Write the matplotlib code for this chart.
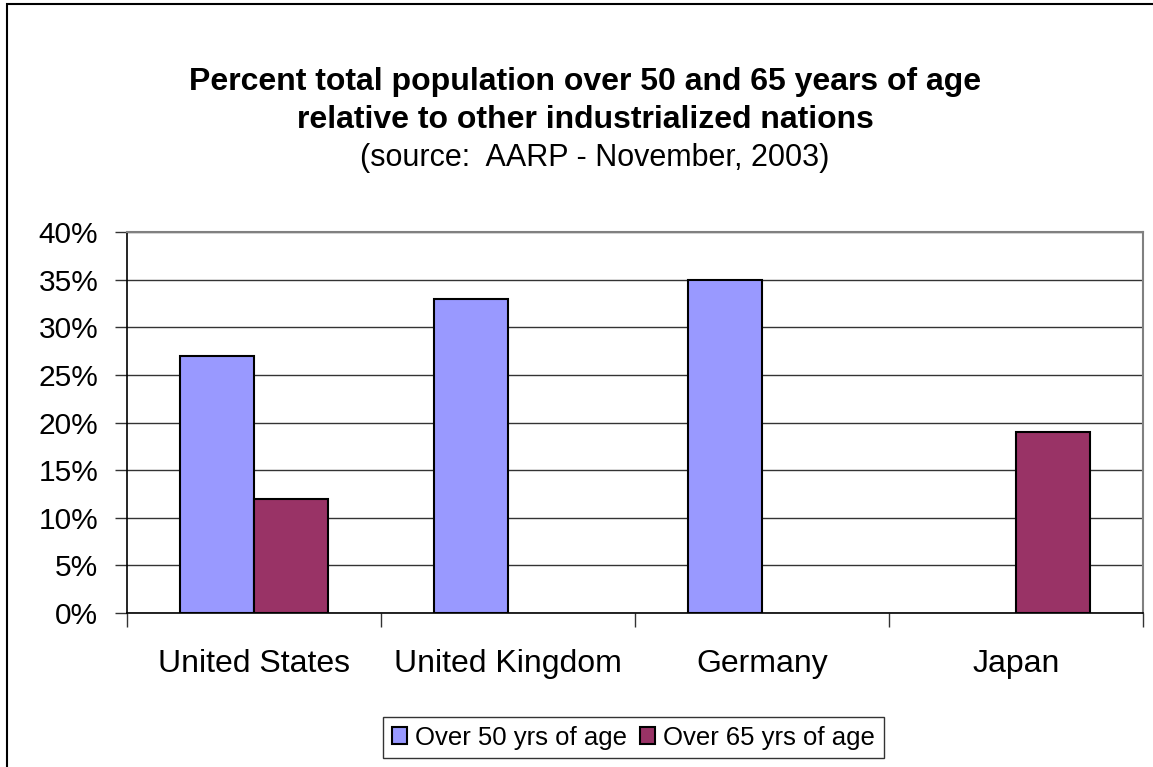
import matplotlib
matplotlib.use("Agg")
import matplotlib.pyplot as plt
from matplotlib.patches import Rectangle
from matplotlib.ticker import FixedLocator, FuncFormatter
import numpy as np

plt.rcParams['font.family'] = ['Liberation Sans', 'DejaVu Sans']

categories = ["United States", "United Kingdom", "Germany", "Japan"]
over50 = [27, 33, 35, 0]
over65 = [12, 0, 0, 19]
series_names = ["Over 50 yrs of age", "Over 65 yrs of age"]
colors = ["#9999FF", "#993366"]

fig = plt.figure(figsize=(11.53, 7.67), dpi=100)
ax = fig.add_axes([127/1153, 1-613/767, 1016/1153, 381/767])

x = np.arange(len(categories))
w = 0.29
for vals, off, c, name in [(over50, -w/2, colors[0], series_names[0]),
                           (over65, w/2, colors[1], series_names[1])]:
    xs = [xi + off for xi, v in zip(x, vals) if v > 0]
    vs = [v for v in vals if v > 0]
    ax.bar(xs, vs, width=w, color=c, edgecolor='black', linewidth=1.5,
           label=name, zorder=3)

ax.set_xlim(-0.5, len(categories) - 0.5)
ax.set_ylim(0, 40)
ax.yaxis.set_major_locator(FixedLocator(range(0, 41, 5)))
ax.yaxis.set_major_formatter(FuncFormatter(lambda v, p: f"{int(v)}%"))
ax.grid(axis='y', color='#333333', linewidth=1.0, zorder=1)
ax.set_xticks(np.arange(-0.5, len(categories), 1.0))
ax.set_xticklabels([])
ax.set_xticks(x, minor=True)
ax.set_xticklabels(categories, minor=True, fontsize=23)
ax.tick_params(axis='x', which='major', length=10, width=1, color='#333333')
ax.tick_params(axis='x', which='minor', length=0, pad=26)
ax.tick_params(axis='y', length=8.6, width=1, labelsize=21.5, pad=12, color='#333333')
for s in ['left', 'bottom']:
    ax.spines[s].set_color('black')
    ax.spines[s].set_linewidth(1.2)
for s in ['top', 'right']:
    ax.spines[s].set_color('#808080')
    ax.spines[s].set_linewidth(1.5)

fig.text(585/1153, 1-82/767, "Percent total population over 50 and 65 years of age",
         ha='center', va='center', fontsize=23, fontweight='bold')
fig.text(585/1153, 1-120/767, "relative to other industrialized nations",
         ha='center', va='center', fontsize=23, fontweight='bold')
fig.text(595/1153, 1-158/767, "(source:  AARP - November, 2003)",
         ha='center', va='center', fontsize=22)

leg = fig.legend(loc='center', bbox_to_anchor=(633.5/1153, 1-737.5/767), ncol=2,
                 fontsize=18.5, frameon=True, fancybox=False, edgecolor='black',
                 handlelength=0.6, handleheight=0.6, handletextpad=0.3,
                 columnspacing=0.5, borderpad=0.35)
leg.get_frame().set_linewidth(1.0)

fig.add_artist(Rectangle((7/1153, -0.05), 1.2, 1-4/767 + 0.05,
                         transform=fig.transFigure, fill=False,
                         edgecolor='black', linewidth=1.5))

fig.savefig("out.png", dpi=100)
